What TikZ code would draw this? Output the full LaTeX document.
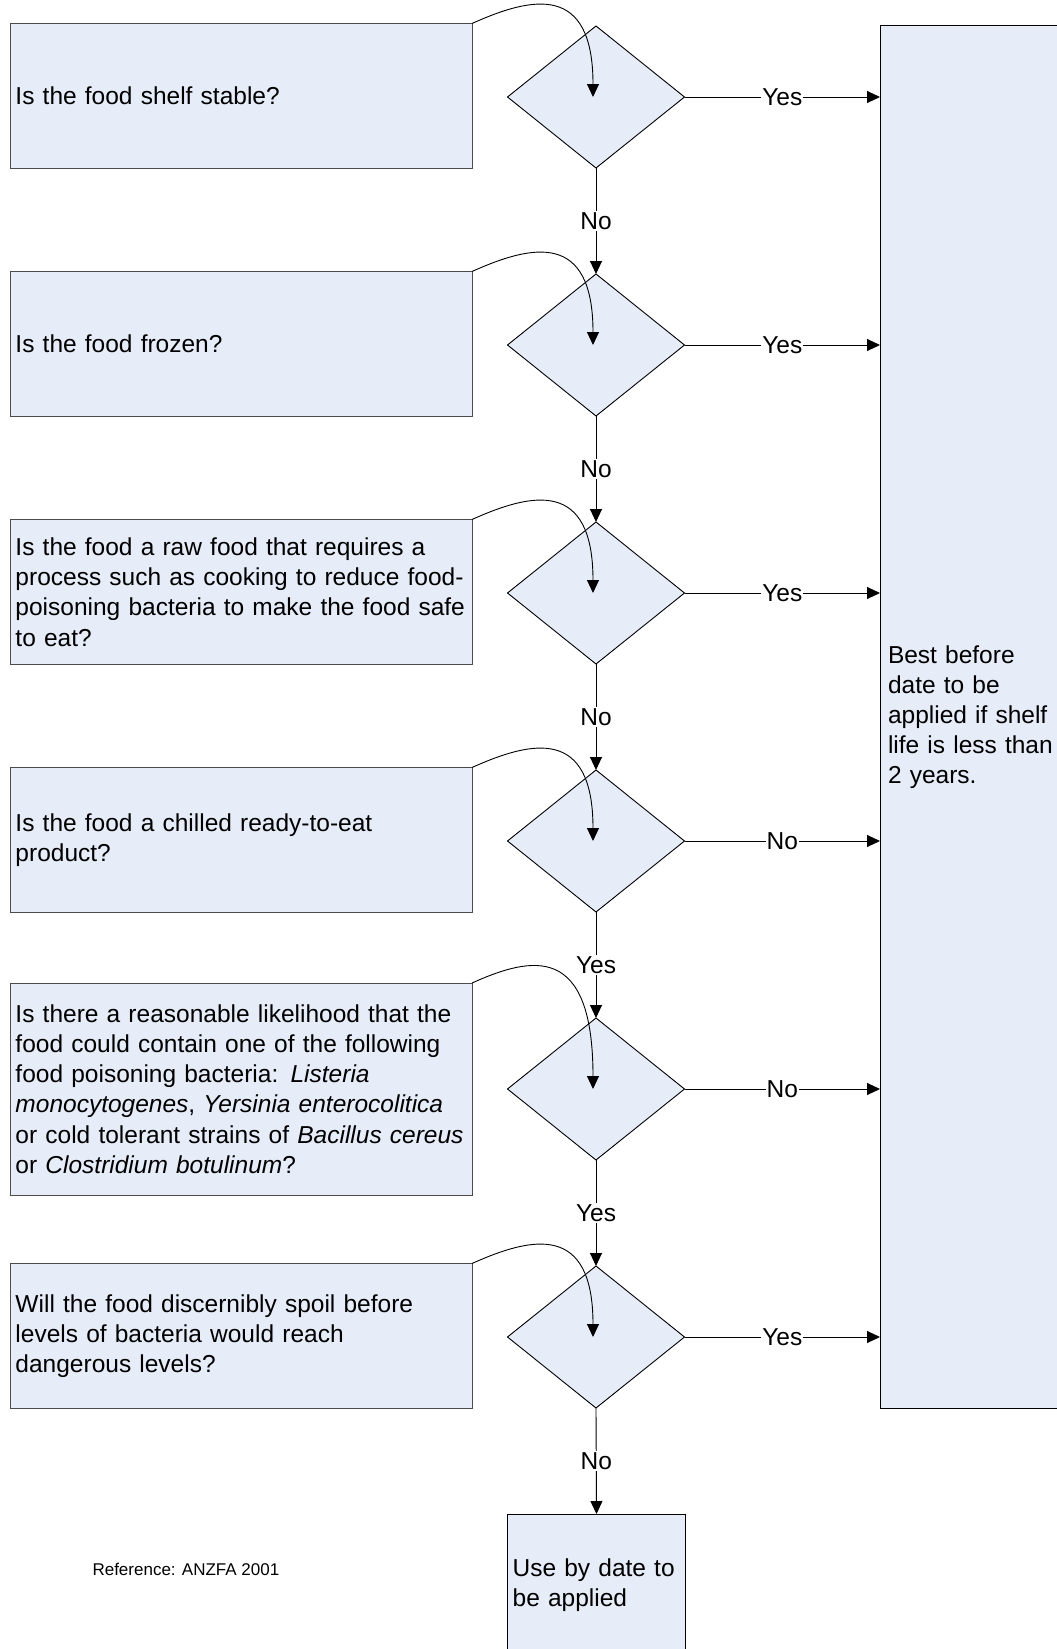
\documentclass[tikz,border=0pt]{standalone}
\usepackage{fontspec}
\setmainfont{Liberation Sans}
\usetikzlibrary{shapes.geometric,arrows.meta}
\definecolor{boxfill}{RGB}{230,236,248}
\begin{document}
\begin{tikzpicture}[x=1pt,y=-1pt,
  every node/.style={font=\fontsize{24.5}{30.2}\selectfont},
  qbox/.style={draw=black!70, line width=1pt, fill=boxfill, rectangle,
    minimum width=461.5pt, minimum height=145pt, text width=451.5pt,
    inner xsep=5pt, inner ysep=0pt, align=left, outer sep=0pt},
  dec/.style={draw=black, line width=0.9pt, fill=boxfill, diamond,
    minimum width=177pt, minimum height=142pt, inner sep=0pt, outer sep=0pt},
  resbox/.style={draw=black, line width=1pt, fill=boxfill, rectangle,
    inner ysep=0pt, align=left, outer sep=0pt},
  arr/.style={draw=black, line width=0.9pt, -{Triangle[length=13pt,width=12pt]}},
  lbl/.style={fill=white, inner sep=1pt}]
\useasboundingbox (0,0) rectangle (1057,1649);

% decisions
\node[dec] (d1) at (596,97) {};
\node[dec] (d2) at (596,345) {};
\node[dec] (d3) at (596,593) {};
\node[dec] (d4) at (596,841) {};
\node[dec] (d5) at (596,1089) {};
\node[dec] (d6) at (596,1337) {};

% question boxes
\node[qbox] (b1) at (241.25,96) {Is the food shelf stable?};
\node[qbox] (b2) at (241.25,344) {Is the food frozen?};
\node[qbox] (b3) at (241.25,592) {Is the food a raw food that requires a\\process such as cooking to reduce food-\\poisoning bacteria to make the food safe\\to eat?};
\node[qbox] (b4) at (241.25,840) {Is the food a chilled ready-to-eat\\product?};
\node[qbox, minimum height=212pt] (b5) at (241.25,1089) {Is there a reasonable likelihood that the\\food could contain one of the following\\food poisoning bacteria: \textit{Listeria}\\\textit{monocytogenes}, \textit{Yersinia enterocolitica}\\or cold tolerant strains of \textit{Bacillus cereus}\\or \textit{Clostridium botulinum}?};
\node[qbox] (b6) at (241.25,1336) {Will the food discernibly spoil before\\levels of bacteria would reach\\dangerous levels?};

% result boxes
\node[resbox, minimum width=200pt, minimum height=1382.5pt, text width=184pt,
  inner xsep=8pt, font=\fontsize{24.5}{30}\selectfont] (best) at (980,716.75)
  {Best before\\date to be\\applied if shelf\\life is less than\\2 years.};
\node[resbox, minimum width=177.7pt, minimum height=142pt, text width=167.7pt,
  inner xsep=5pt, font=\fontsize{24.5}{30}\selectfont] (use) at (596.5,1585)
  {Use by date to\\be applied};

\node[anchor=west, font=\fontsize{17}{20}\selectfont] (ref) at (89,1569) {Reference: ANZFA 2001};

% vertical connectors
\draw[arr] (d1.south) -- node[lbl]{No} (d2.north);
\draw[arr] (d2.south) -- node[lbl]{No} (d3.north);
\draw[arr] (d3.south) -- node[lbl]{No} (d4.north);
\draw[arr] (d4.south) -- node[lbl]{Yes} (d5.north);
\draw[arr] (d5.south) -- node[lbl]{Yes} (d6.north);
\draw[arr] (d6.south) -- node[lbl]{No} (use.north);

% horizontal connectors
\draw[arr] (d1.east) -- node[lbl]{Yes} (d1.east -| best.west);
\draw[arr] (d2.east) -- node[lbl]{Yes} (d2.east -| best.west);
\draw[arr] (d3.east) -- node[lbl]{Yes} (d3.east -| best.west);
\draw[arr] (d4.east) -- node[lbl]{No} (d4.east -| best.west);
\draw[arr] (d5.east) -- node[lbl]{No} (d5.east -| best.west);
\draw[arr] (d6.east) -- node[lbl]{Yes} (d6.east -| best.west);

% curved connectors from question to decision
\draw[arr] (b1.north east) .. controls +(60,-27) and +(0,-114) .. ([xshift=-3pt]d1.center);
\draw[arr] (b2.north east) .. controls +(60,-27) and +(0,-114) .. ([xshift=-3pt]d2.center);
\draw[arr] (b3.north east) .. controls +(60,-27) and +(0,-114) .. ([xshift=-3pt]d3.center);
\draw[arr] (b4.north east) .. controls +(60,-27) and +(0,-114) .. ([xshift=-3pt]d4.center);
\draw[arr] (b5.north east) .. controls +(60,-27) and +(0,-146) .. ([xshift=-3pt]d5.center);
\draw[arr] (b6.north east) .. controls +(60,-27) and +(0,-114) .. ([xshift=-3pt]d6.center);
\end{tikzpicture}
\end{document}
